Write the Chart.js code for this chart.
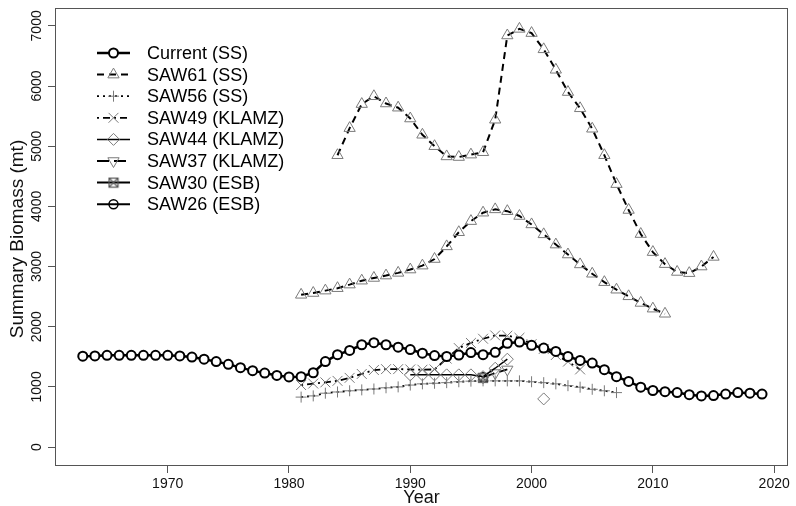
<!DOCTYPE html>
<html><head><meta charset="utf-8">
<script src="https://cdn.jsdelivr.net/npm/chart.js@4/dist/chart.umd.min.js"></script>
<style>html,body{margin:0;padding:0;background:#fff}#wrap{width:796px;height:506px;position:relative}</style>
</head><body><div id="wrap"><canvas id="c" width="796" height="506"></canvas></div>
<script>
// ---------- data ----------
const xTickLabels = [1970, 1980, 1990, 2000, 2010, 2020];
const yTickLabels = [0, 1000, 2000, 3000, 4000, 5000, 6000, 7000];

const currentYears = [1963,1964,1965,1966,1967,1968,1969,1970,1971,1972,1973,1974,1975,1976,1977,1978,1979,1980,1981,1982,1983,1984,1985,1986,1987,1988,1989,1990,1991,1992,1993,1994,1995,1996,1997,1998,1999,2000,2001,2002,2003,2004,2005,2006,2007,2008,2009,2010,2011,2012,2013,2014,2015,2016,2017,2018,2019];
const currentSS = [1510,1515,1525,1525,1525,1525,1525,1525,1515,1495,1460,1420,1375,1320,1270,1230,1190,1165,1170,1235,1420,1535,1605,1700,1735,1700,1660,1620,1560,1520,1505,1530,1570,1535,1575,1725,1745,1690,1645,1590,1505,1440,1395,1285,1170,1090,995,940,920,905,870,850,855,880,905,895,880];

const saw61Years = [1984,1985,1986,1987,1988,1989,1990,1991,1992,1993,1994,1995,1996,1997,1998,1999,2000,2001,2002,2003,2004,2005,2006,2007,2008,2009,2010,2011,2012,2013,2014,2015];
const saw61SS = [4850,5300,5700,5830,5710,5640,5460,5190,5000,4830,4820,4860,4900,5440,6840,6950,6880,6610,6270,5900,5630,5290,4850,4370,3940,3540,3240,3040,2910,2890,3000,3160];

const saw61bYears = [1981,1982,1983,1984,1985,1986,1987,1988,1989,1990,1991,1992,1993,1994,1995,1996,1997,1998,1999,2000,2001,2002,2003,2004,2005,2006,2007,2008,2009,2010,2011];
const saw61bSS = [2530,2560,2600,2640,2700,2765,2810,2850,2895,2950,3015,3125,3335,3570,3755,3895,3950,3920,3840,3700,3535,3365,3200,3035,2880,2740,2615,2505,2395,2300,2215];

const saw56Years = [1981,1982,1983,1984,1985,1986,1987,1988,1989,1990,1991,1992,1993,1994,1995,1996,1997,1998,1999,2000,2001,2002,2003,2004,2005,2006,2007];
const saw56SS = [830,850,895,915,935,950,965,985,1000,1030,1050,1060,1070,1085,1095,1100,1100,1100,1100,1085,1070,1050,1020,995,960,935,905];

const saw49Years = [1981,1982,1983,1984,1985,1986,1987,1988,1989,1990,1991,1992,1993,1994,1995,1996,1997,1998,1999,2000,2001,2002,2003,2004];
const saw49KLAMZ = [1030,1055,1075,1100,1150,1215,1280,1295,1295,1290,1285,1290,1470,1645,1730,1800,1855,1850,1815,1710,1630,1530,1420,1290];

const saw44Years = [1990,1991,1992,1993,1994,1995,1996,1997,1998,1999,2000,2001];
const saw44KLAMZ = [1200,1200,1200,1200,1200,1200,1170,1310,1460,null,null,800];

const saw37Years = [1996,1997,1998];
const saw37KLAMZ = [1160,1230,1290];

const saw30Years = [1996];
const saw30ESB = [1150];

const saw26Years = [1996];
const saw26ESB = [1160];

// ---------- helpers ----------
function pts(xs, ys) { return xs.map((x, i) => ({ x: x, y: ys[i] })); }

function boxX() {
  const s = 12, c = document.createElement('canvas');
  c.width = s; c.height = s;
  const g = c.getContext('2d');
  g.strokeStyle = '#555'; g.lineWidth = 1.2;
  g.strokeRect(1.5, 1.5, s - 3, s - 3);
  g.beginPath(); g.moveTo(1.5, 1.5); g.lineTo(s - 1.5, s - 1.5);
  g.moveTo(s - 1.5, 1.5); g.lineTo(1.5, s - 1.5); g.stroke();
  return c;
}
const boxXImg = boxX();

const GRAY = '#7a7a7a';
const datasets = [
  { label: 'Current (SS)', data: pts(currentYears, currentSS), borderColor: '#000', borderWidth: 2.5,
    pointStyle: 'circle', pointRadius: 4.5, pointBorderWidth: 2, pointBorderColor: '#000', pointBackgroundColor: '#fff', inLegend: true },
  { label: 'SAW61 (SS)', data: pts(saw61Years, saw61SS), borderColor: '#000', borderWidth: 2, borderDash: [7, 5],
    pointStyle: 'triangle', pointRadius: 6.5, pointBorderWidth: 1, pointBorderColor: GRAY, pointBackgroundColor: 'rgba(0,0,0,0)', inLegend: true },
  { label: 'SAW56 (SS)', data: pts(saw56Years, saw56SS), borderColor: '#000', borderWidth: 1.8, borderDash: [2, 4],
    pointStyle: 'cross', pointRadius: 5.5, pointBorderWidth: 1, pointBorderColor: GRAY, pointBackgroundColor: 'rgba(0,0,0,0)', inLegend: true },
  { label: 'SAW49 (KLAMZ)', data: pts(saw49Years, saw49KLAMZ), borderColor: '#000', borderWidth: 1.8, borderDash: [2, 4, 7, 4],
    pointStyle: 'crossRot', pointRadius: 7, pointBorderWidth: 1, pointBorderColor: GRAY, pointBackgroundColor: 'rgba(0,0,0,0)', inLegend: true },
  { label: 'SAW44 (KLAMZ)', data: pts(saw44Years, saw44KLAMZ), borderColor: '#000', borderWidth: 1.5,
    pointStyle: 'rectRot', pointRadius: 6, pointBorderWidth: 1, pointBorderColor: GRAY, pointBackgroundColor: 'rgba(0,0,0,0)', inLegend: true },
  { label: 'SAW37 (KLAMZ)', data: pts(saw37Years, saw37KLAMZ), borderColor: '#000', borderWidth: 1.8, borderDash: [12, 5],
    pointStyle: 'triangle', pointRotation: 180, pointRadius: 6.5, pointBorderWidth: 1, pointBorderColor: GRAY, pointBackgroundColor: 'rgba(0,0,0,0)', inLegend: true },
  { label: 'SAW30 (ESB)', data: pts(saw30Years, saw30ESB), borderColor: '#000', borderWidth: 2,
    pointStyle: boxXImg, pointRadius: 6, pointBorderWidth: 1, pointBorderColor: '#555', pointBackgroundColor: 'rgba(0,0,0,0)', inLegend: true },
  { label: 'SAW26 (ESB)', data: pts(saw26Years, saw26ESB), borderColor: '#000', borderWidth: 2,
    pointStyle: 'circle', pointRadius: 4.5, pointBorderWidth: 1.5, pointBorderColor: '#000', pointBackgroundColor: 'rgba(0,0,0,0)', inLegend: true },
  { label: 'SAW61 (SS) earlier run', data: pts(saw61bYears, saw61bSS), borderColor: '#000', borderWidth: 2, borderDash: [7, 5],
    pointStyle: 'triangle', pointRadius: 6.5, pointBorderWidth: 1, pointBorderColor: GRAY, pointBackgroundColor: 'rgba(0,0,0,0)', inLegend: false }
];

const TEXT = '#111';
const TICKFONT = '14px "Liberation Sans Narrow", "Liberation Sans", Arial, sans-serif';

const decor = {
  id: 'decor',
  afterDraw(chart) {
    const ctx = chart.ctx, a = chart.chartArea, ys = chart.scales.y;
    ctx.save();
    // frame
    ctx.strokeStyle = '#555'; ctx.lineWidth = 1;
    ctx.strokeRect(a.left + 0.5, a.top + 0.5, a.right - a.left - 1, a.bottom - a.top - 1);
    // y tick labels (rotated)
    ctx.fillStyle = TEXT; ctx.font = TICKFONT; ctx.textAlign = 'center'; ctx.textBaseline = 'middle';
    yTickLabels.forEach(v => {
      const py = ys.getPixelForValue(v);
      ctx.save(); ctx.translate(37, py); ctx.rotate(-Math.PI / 2); ctx.fillText(String(v), 0, 0); ctx.restore();
    });
    // axis titles
    ctx.font = '19px "Liberation Sans", Arial, sans-serif';
    ctx.save(); ctx.translate(18, (a.top + a.bottom) / 2 + 2); ctx.rotate(-Math.PI / 2);
    ctx.fillText('Summary Biomass (mt)', 0, 0); ctx.restore();
    ctx.font = '18px "Liberation Sans", Arial, sans-serif';
    ctx.fillText('Year', (a.left + a.right) / 2, 498);
    // legend
    const lx0 = 97, lx1 = 130, mx = 113.5, tx = 147, y0 = 53, dy = 21.6;
    let row = 0;
    chart.data.datasets.forEach(ds => {
      if (!ds.inLegend) return;
      const y = y0 + row * dy; row++;
      ctx.save();
      ctx.strokeStyle = ds.borderColor; ctx.lineWidth = ds.borderWidth;
      ctx.setLineDash(ds.borderDash || []);
      ctx.beginPath(); ctx.moveTo(lx0, y); ctx.lineTo(lx1, y); ctx.stroke();
      ctx.setLineDash([]);
      ctx.strokeStyle = ds.pointBorderColor; ctx.fillStyle = ds.pointBackgroundColor; ctx.lineWidth = ds.pointBorderWidth;
      Chart.helpers.drawPoint(ctx, { pointStyle: ds.pointStyle, rotation: ds.pointRotation || 0, radius: ds.pointRadius, borderWidth: ds.pointBorderWidth }, mx, y);
      ctx.restore();
      ctx.fillStyle = '#000'; ctx.font = '18px "Liberation Sans", Arial, sans-serif';
      ctx.textAlign = 'left'; ctx.textBaseline = 'middle';
      ctx.fillText(ds.label, tx, y + 1);
    });
    ctx.restore();
  }
};

new Chart(document.getElementById('c'), {
  type: 'line',
  data: { datasets: datasets },
  options: {
    responsive: false, animation: false, devicePixelRatio: 1,
    spanGaps: false,
    layout: { padding: { top: 7, right: 2, left: 0, bottom: 0 } },
    plugins: { legend: { display: false }, tooltip: { enabled: false } },
    elements: { line: { tension: 0, fill: false } },
    scales: {
      x: {
        type: 'linear', min: 1960.71, max: 2021.14,
        afterBuildTicks: s => { s.ticks = xTickLabels.map(v => ({ value: v })); },
        afterFit: s => { s.height = 40; },
        grid: { drawOnChartArea: false, drawTicks: true, tickLength: 7, color: '#555' },
        border: { display: false },
        ticks: { color: TEXT, font: { family: '"Liberation Sans Narrow", "Liberation Sans", Arial, sans-serif', size: 14 }, padding: 3, maxRotation: 0, minRotation: 0, autoSkip: false, callback: v => String(v) }
      },
      y: {
        type: 'linear', min: -315, max: 7297,
        afterBuildTicks: s => { s.ticks = yTickLabels.map(v => ({ value: v })); },
        afterFit: s => { s.width = 55; },
        grid: { drawOnChartArea: false, drawTicks: true, tickLength: 7, color: '#555' },
        border: { display: false },
        ticks: { display: false }
      }
    }
  },
  plugins: [decor]
});
</script>
</body></html>
